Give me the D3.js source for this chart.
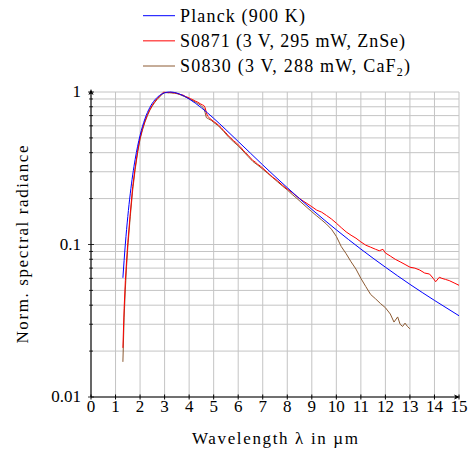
<!DOCTYPE html>
<html>
<head>
<meta charset="utf-8">
<script src="https://cdn.jsdelivr.net/npm/d3@7/dist/d3.min.js"></script>
<style>
  body { margin: 0; background: #fff; }
</style>
</head>
<body>
<div id="svg-container"></div>
<script>
////////////////////////////////////////////////////////////////////
////////////////////////////  Data  ////////////////////////////////
// wavelength in um, normalised radiance
const planckWl = [1.3, 1.4, 1.5, 1.6, 1.7, 1.8, 1.9, 2.0, 2.2, 2.4, 2.6, 2.8, 3.0, 3.2, 3.4, 3.6, 3.8, 4.0, 4.5, 5.0, 5.5, 6.0, 6.5, 7.0, 7.5, 8.0, 8.5, 9.0, 9.5, 10, 11, 12, 13, 14, 15];
const planckVal = [0.0605, 0.1006, 0.1525, 0.215, 0.286, 0.362, 0.441, 0.52, 0.668, 0.793, 0.887, 0.951, 0.988, 1.0, 0.993, 0.971, 0.94, 0.9, 0.788, 0.672, 0.566, 0.474, 0.397, 0.3325, 0.2795, 0.2358, 0.1997, 0.17, 0.1453, 0.1248, 0.0933, 0.071, 0.0548, 0.043, 0.0341];

const s0871Wl = [1.3, 1.35, 1.4, 1.45, 1.5, 1.6, 1.7, 1.8, 1.9, 2.0, 2.1, 2.2, 2.3, 2.4, 2.5, 2.6, 2.7, 2.8, 2.9, 2.95, 3.05, 3.15, 3.25, 3.35, 3.45, 3.55, 3.65, 3.75, 3.85, 3.95, 4.05, 4.15, 4.25, 4.35, 4.45, 4.55, 4.6, 4.65, 4.7, 4.75, 4.85, 5.0, 5.1, 5.2, 5.3, 5.4, 5.5, 5.6, 5.7, 5.8, 5.9, 6.0, 6.1, 6.2, 6.3, 6.4, 6.5, 6.6, 6.7, 6.8, 6.9, 7.0, 7.2, 7.4, 7.6, 7.8, 8.0, 8.2, 8.4, 8.6, 8.8, 9.0, 9.2, 9.4, 9.6, 9.8, 10.0, 10.2, 10.4, 10.6, 10.8, 11.0, 11.2, 11.4, 11.6, 11.75, 11.9, 12.0, 12.2, 12.4, 12.6, 12.8, 13.0, 13.2, 13.4, 13.6, 13.8, 13.95, 14.05, 14.2, 14.3, 14.45, 14.6, 14.8, 15.0];
const s0871Val = [0.021, 0.038, 0.058, 0.078, 0.103, 0.16, 0.24, 0.32, 0.41, 0.5, 0.575, 0.645, 0.71, 0.77, 0.82, 0.865, 0.905, 0.94, 0.975, 0.997, 0.995, 0.99, 0.995, 0.988, 0.985, 0.975, 0.962, 0.955, 0.935, 0.922, 0.905, 0.89, 0.872, 0.858, 0.838, 0.822, 0.815, 0.79, 0.735, 0.695, 0.67, 0.64, 0.625, 0.605, 0.585, 0.56, 0.54, 0.515, 0.5, 0.48, 0.468, 0.45, 0.435, 0.415, 0.4, 0.385, 0.37, 0.355, 0.347, 0.335, 0.327, 0.317, 0.296, 0.277, 0.262, 0.245, 0.231, 0.219, 0.206, 0.195, 0.186, 0.177, 0.168, 0.163, 0.155, 0.147, 0.138, 0.129, 0.121, 0.115, 0.11, 0.104, 0.099, 0.096, 0.093, 0.091, 0.093, 0.088, 0.084, 0.08, 0.077, 0.074, 0.071, 0.07, 0.068, 0.065, 0.064, 0.06, 0.057, 0.061, 0.06, 0.059, 0.058, 0.056, 0.054];

const s0830Wl = [1.3, 1.35, 1.4, 1.45, 1.5, 1.6, 1.7, 1.8, 1.9, 2.0, 2.1, 2.2, 2.3, 2.4, 2.5, 2.6, 2.7, 2.8, 2.9, 3.0, 3.1, 3.2, 3.3, 3.4, 3.5, 3.6, 3.7, 3.8, 3.9, 4.0, 4.1, 4.2, 4.3, 4.4, 4.5, 4.6, 4.65, 4.7, 4.8, 4.9, 5.0, 5.2, 5.4, 5.6, 5.8, 6.0, 6.2, 6.4, 6.6, 6.8, 7.0, 7.2, 7.4, 7.6, 7.8, 8.0, 8.2, 8.4, 8.6, 8.8, 9.0, 9.2, 9.4, 9.6, 9.8, 10.0, 10.2, 10.4, 10.6, 10.8, 11.0, 11.2, 11.4, 11.6, 11.8, 12.0, 12.2, 12.35, 12.5, 12.6, 12.7, 12.8, 12.9, 13.0];
const s0830Val = [0.017, 0.033, 0.051, 0.072, 0.096, 0.152, 0.228, 0.31, 0.4, 0.49, 0.565, 0.635, 0.7, 0.76, 0.81, 0.855, 0.895, 0.93, 0.965, 0.99, 0.99, 0.988, 0.985, 0.983, 0.975, 0.965, 0.95, 0.935, 0.92, 0.903, 0.887, 0.869, 0.851, 0.833, 0.812, 0.78, 0.735, 0.68, 0.665, 0.652, 0.632, 0.598, 0.553, 0.508, 0.473, 0.443, 0.41, 0.378, 0.35, 0.331, 0.312, 0.293, 0.275, 0.258, 0.242, 0.228, 0.213, 0.2, 0.187, 0.175, 0.164, 0.154, 0.145, 0.136, 0.126, 0.113, 0.097, 0.087, 0.077, 0.069, 0.06, 0.053, 0.047, 0.044, 0.041, 0.0385, 0.035, 0.031, 0.0335, 0.03, 0.029, 0.0305, 0.029, 0.028];

const seriesNames = ["Planck (900 K)", "S0871 (3 V, 295 mW, ZnSe)", "S0830 (3 V, 288 mW, CaF_2)"];
const seriesColors = ["#0000ff", "#ff0000", "#8c5a32"];
// widths of the legend texts in the original
const legendWidths = [125, 225, 230];

const xTicks = d3.range(0, 16);
const yMajorTicks = [0.01, 0.1, 1];
const yTickLabels = ["0.01", "0.1", "1"];

const xLabel = "Wavelength \u03bb in \u00b5m";
const yLabel = "Norm. spectral radiance";

////////////////////////////////////////////////////////////////////
////////////////////////////  Init  ////////////////////////////////
const width = 470;
const height = 451;
const margin = { top: 92, right: 11, bottom: 54, left: 91 };

const svg = d3
  .select("#svg-container")
  .append("svg")
  .attr("width", width)
  .attr("height", height);

// Scales
const xScale = d3
  .scaleLinear()
  .domain([0, 15])
  .range([margin.left, width - margin.right]);

const yScale = d3
  .scaleLog()
  .domain([0.01, 1])
  .range([height - margin.bottom, margin.top]);

// grid
svg
  .append("g")
  .selectAll("line")
  .data(xTicks.slice(1))
  .enter()
  .append("line")
  .attr("x1", (d) => xScale(d))
  .attr("x2", (d) => xScale(d))
  .attr("y1", yScale(0.01))
  .attr("y2", yScale(1))
  .attr("stroke", "#c4c4c4")
  .attr("stroke-width", 1);

svg
  .append("g")
  .selectAll("line")
  .data(yScale.ticks())
  .enter()
  .append("line")
  .attr("x1", xScale(0))
  .attr("x2", xScale(15))
  .attr("y1", (d) => yScale(d))
  .attr("y2", (d) => yScale(d))
  .attr("stroke", "#c4c4c4")
  .attr("stroke-width", 1);

// lines
const line = d3
  .line()
  .x((d) => xScale(d[0]))
  .y((d) => yScale(d[1]));

const series = [
  { wl: planckWl, val: planckVal, curve: d3.curveMonotoneX },
  { wl: s0871Wl, val: s0871Val, curve: d3.curveLinear },
  { wl: s0830Wl, val: s0830Val, curve: d3.curveLinear },
];

// brown first, blue on top
[2, 1, 0].forEach((i) => {
  const s = series[i];
  svg
    .append("path")
    .datum(d3.zip(s.wl, s.val))
    .attr("fill", "none")
    .attr("stroke", seriesColors[i])
    .attr("stroke-width", 1)
    .attr("stroke-linejoin", "round")
    .attr("d", line.curve(s.curve));
});

////////////////////////////////////////////////////////////////////
////////////////////////////  Axes  ////////////////////////////////
const axisColor = "#000";
const x0 = xScale(0);
const y0 = yScale(0.01);

svg
  .append("g")
  .selectAll("line")
  .data(xTicks)
  .enter()
  .append("line")
  .attr("x1", (d) => xScale(d))
  .attr("x2", (d) => xScale(d))
  .attr("y1", y0 - 2.5)
  .attr("y2", y0 + 2.5)
  .attr("stroke", axisColor);

svg
  .append("g")
  .selectAll("line")
  .data(yScale.ticks())
  .enter()
  .append("line")
  .attr("x1", (d) => x0 - (yMajorTicks.includes(d) ? 3 : 2))
  .attr("x2", (d) => x0 + (yMajorTicks.includes(d) ? 3 : 2))
  .attr("y1", (d) => yScale(d))
  .attr("y2", (d) => yScale(d))
  .attr("stroke", axisColor)
  .attr("stroke-width", 0.8);

svg
  .append("line")
  .attr("x1", x0)
  .attr("x2", xScale(15) - 2)
  .attr("y1", y0)
  .attr("y2", y0)
  .attr("stroke", axisColor)
  .attr("stroke-width", 1.2);

svg
  .append("line")
  .attr("x1", x0)
  .attr("x2", x0)
  .attr("y1", y0)
  .attr("y2", yScale(1) + 1)
  .attr("stroke", axisColor)
  .attr("stroke-width", 1.2);

const tipX = xScale(15) + 1;
const tipY = yScale(1) - 3;
svg
  .append("path")
  .attr("d", `M${tipX},${y0} L${tipX - 6},${y0 - 2.6} L${tipX - 4.5},${y0} L${tipX - 6},${y0 + 2.6} Z`)
  .attr("fill", axisColor);
svg
  .append("path")
  .attr("d", `M${x0},${tipY} L${x0 - 2.6},${tipY + 6} L${x0},${tipY + 4.5} L${x0 + 2.6},${tipY + 6} Z`)
  .attr("fill", axisColor);

////////////////////////////////////////////////////////////////////
////////////////////////////  Texts  ///////////////////////////////
// all texts sit straight on the svg, family set on each one
const texts = [];
xTicks.forEach((d) => texts.push({ s: String(d), x: xScale(d), y: y0 + 15, size: 17, anchor: "middle" }));
yMajorTicks.forEach((d, i) => texts.push({ s: yTickLabels[i], x: x0 - 10, y: yScale(d) + 5, size: 17, anchor: "end" }));
texts.push({ s: xLabel, x: (xScale(0) + xScale(15)) / 2, y: 444, size: 17, anchor: "middle", len: 166 });
texts.push({ s: yLabel, x: 0, y: 0, size: 17, anchor: "middle", len: 198, rot: `translate(28,${(yScale(0.01) + yScale(1)) / 2}) rotate(-90)` });

const legendRow = d3.scaleLinear().domain([0, 2]).range([15.7, 66]);
seriesNames.forEach((d, i) => texts.push({ s: d, x: 180, y: legendRow(i) + 6, size: 18, anchor: "start", len: legendWidths[i] }));

svg
  .selectAll("text")
  .data(texts)
  .enter()
  .append("text")
  .attr("x", (d) => d.x)
  .attr("y", (d) => d.y)
  .attr("font-size", (d) => d.size)
  .attr("font-family", (d) => "Liberation Serif")
  .attr("text-anchor", (d) => d.anchor)
  .attr("transform", (d) => d.rot || null)
  .attr("textLength", (d) => d.len || null)
  .each(function (d) {
    // "_" marks a subscript
    const parts = d.s.split("_");
    const t = d3.select(this);
    if (parts.length === 1) {
      t.text(d.s);
      return;
    }
    t.append("tspan").text(parts[0]);
    t.append("tspan").attr("font-size", 12).attr("dy", 3.5).text(parts[1][0]);
    t.append("tspan").attr("dy", -3.5).text(parts[1].slice(1));
  });

// legend lines
svg
  .selectAll(".legend-line")
  .data(seriesNames)
  .enter()
  .append("line")
  .attr("class", "legend-line")
  .attr("x1", 143)
  .attr("x2", 175)
  .attr("y1", (d, i) => legendRow(i))
  .attr("y2", (d, i) => legendRow(i))
  .attr("stroke", (d, i) => seriesColors[i])
  .attr("stroke-width", 1);
</script>
</body>
</html>
